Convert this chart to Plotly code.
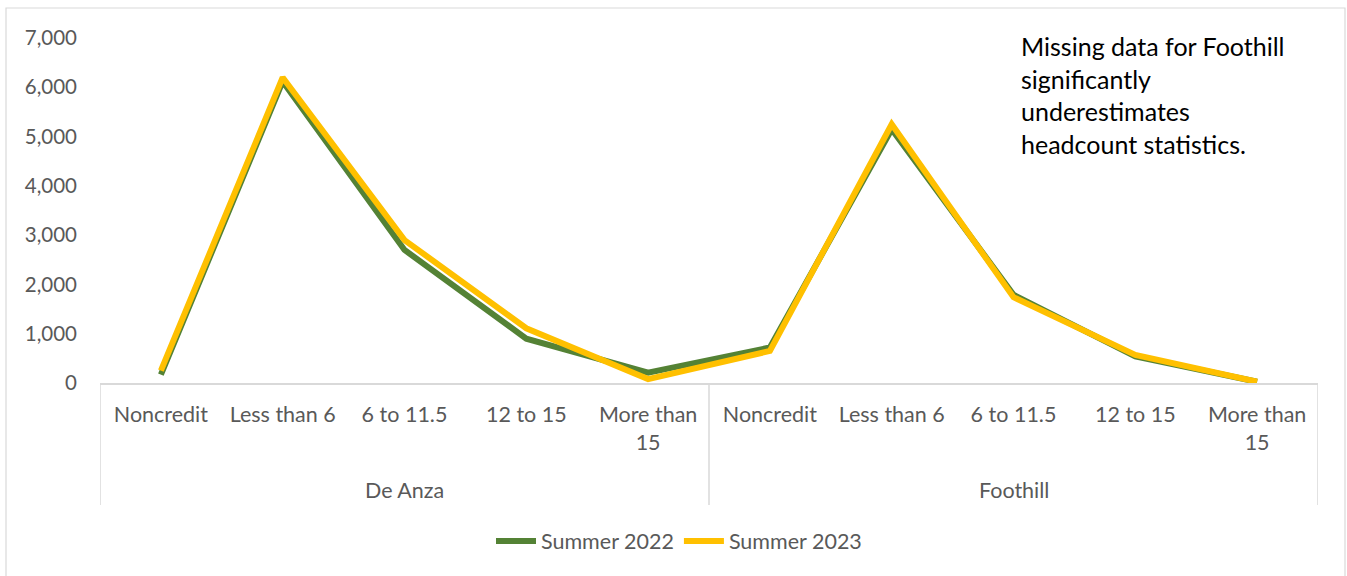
import plotly.graph_objects as go

groups = ["De Anza", "Foothill"]
inner = ["Noncredit", "Less than 6", "6 to 11.5", "12 to 15", "More than<br>15"]
series_names = ["Summer 2022", "Summer 2023"]
summer_2022 = [170, 6120, 2700, 900, 210, 720, 5150, 1790, 540, 25]
summer_2023 = [250, 6200, 2900, 1110, 80, 650, 5250, 1740, 570, 25]
y_ticks = [0, 1000, 2000, 3000, 4000, 5000, 6000, 7000]
note_lines = ["Missing data for Foothill", "significantly", "underestimates", "headcount statistics."]

FONT = "Lato"
GREEN = "#548235"
YELLOW = "#FFC000"
GRID = "#d9d9d9"
TXT = "#595959"
CAT_SIZE = 21.5

labels = [lab for g in groups for lab in inner]
xs = list(range(len(labels)))
n_in = len(inner)

fig = go.Figure()
fig.add_trace(go.Scatter(x=xs, y=summer_2022, mode="lines", name=series_names[0],
                         line=dict(color=GREEN, width=6)))
fig.add_trace(go.Scatter(x=xs, y=summer_2023, mode="lines", name=series_names[1],
                         line=dict(color=YELLOW, width=6)))

W, H = 1347, 576
L, R, T, B = 100, 29, 38, 193
ph = H - T - B

def py(pix):
    return (H - B - pix) / ph

def px(pix):
    return (pix - L) / (W - L - R)

shapes = []
for gi in range(len(groups) + 1):
    shapes.append(dict(type="line", xref="x", yref="paper", x0=gi * n_in - 0.5, x1=gi * n_in - 0.5,
                       y0=0, y1=py(505), line=dict(color=GRID, width=1.5)))
shapes.append(dict(type="rect", xref="paper", yref="paper", x0=px(6), x1=px(1345), y0=py(8), y1=py(600),
                   line=dict(color=GRID, width=1.2), fillcolor="rgba(0,0,0,0)", layer="below"))

annotations = []
for gi, g in enumerate(groups):
    annotations.append(dict(xref="x", yref="paper", x=gi * n_in + (n_in - 1) / 2, y=py(490),
                            text=g, showarrow=False, xanchor="center", yanchor="middle",
                            font=dict(family=FONT, size=CAT_SIZE, color=TXT)))
annotations.append(dict(xref="paper", yref="paper", x=px(1019), y=py(29), text="<br>".join(note_lines),
                        showarrow=False, xanchor="left", yanchor="top", align="left",
                        font=dict(family=FONT, size=25, color="#000000")))

fig.update_layout(
    width=W, height=H,
    margin=dict(l=L, r=R, t=T, b=B, pad=0),
    paper_bgcolor="white", plot_bgcolor="white",
    font=dict(family=FONT, size=CAT_SIZE, color=TXT),
    showlegend=True,
    legend=dict(orientation="h", x=px(679), xanchor="center", y=py(541), yanchor="middle",
                font=dict(family=FONT, size=CAT_SIZE, color=TXT), bgcolor="rgba(0,0,0,0)",
                itemwidth=40, tracegroupgap=0),
    shapes=shapes,
    annotations=annotations,
)
fig.update_xaxes(range=[-0.5, len(labels) - 0.5], tickvals=xs, ticktext=labels,
                 showgrid=False, zeroline=False, showline=True, linecolor=GRID, linewidth=1.5,
                 ticks="", ticklabelstandoff=11, tickfont=dict(family=FONT, size=CAT_SIZE, color=TXT))
fig.update_yaxes(range=[0, 7000], tickvals=y_ticks, tickformat=",d", showgrid=False, zeroline=False,
                 showline=False, ticks="", ticklabelstandoff=22,
                 tickfont=dict(family=FONT, size=20.5, color=TXT))

fig.write_html("out.html", config={"displayModeBar": False},
               post_script="document.body.style.margin='0';document.body.style.padding='0';")
